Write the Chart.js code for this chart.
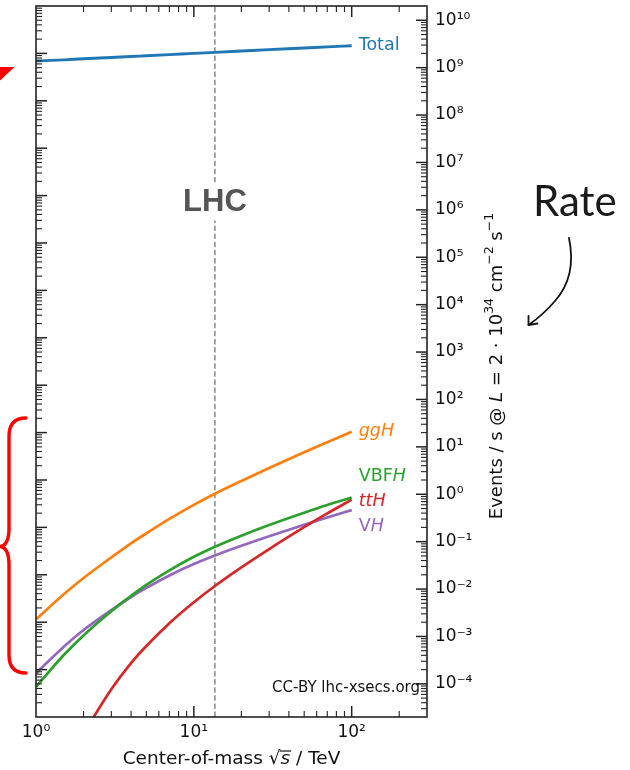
<!DOCTYPE html>
<html>
<head>
<meta charset="utf-8">
<script src="https://cdn.jsdelivr.net/npm/chart.js@4.4.1/dist/chart.umd.min.js"></script>
<style>
  html, body { margin: 0; padding: 0; background: #ffffff; }
  #wrap { width: 630px; height: 770px; position: relative; }
</style>
</head>
<body>
<div id="wrap"><canvas id="c" width="630" height="770"></canvas></div>
<script>
// ---------------- data ----------------
const energiesTeV = [1, 1.5, 2, 3, 4, 5, 7, 10, 13.6, 20, 30, 50, 70, 100];
const totalRate = [1.38e9, 1.46e9, 1.54e9, 1.64e9, 1.72e9, 1.78e9, 1.88e9, 2.0e9, 2.1e9, 2.24e9, 2.4e9, 2.6e9, 2.75e9, 2.9e9];
const ggHRate   = [2.3e-3, 7.76e-3, 0.0171, 0.0465, 0.0923, 0.150, 0.303, 0.598, 1.027, 1.905, 3.57, 7.69, 12.5, 20.8];
const vbfHRate  = [8.7e-5, 4.06e-4, 1.05e-3, 3.4e-3, 7.18e-3, 0.0122, 0.0247, 0.0479, 0.0783, 0.134, 0.225, 0.409, 0.593, 0.85];
const ttHRate   = [null, null, 9.0e-6, 7.74e-5, 2.75e-4, 6.3e-4, 1.91e-3, 5.28e-3, 0.0116, 0.0286, 0.0698, 0.202, 0.394, 0.769];
const vHRate    = [1.67e-4, 6.1e-4, 1.37e-3, 3.61e-3, 6.8e-3, 0.01057, 0.0194, 0.0337, 0.051, 0.0817, 0.13, 0.228, 0.324, 0.463];

const seriesNames = ['Total', 'ggH', 'VBFH', 'ttH', 'VH'];
const lhcEnergyTeV = 13.6;

// axis ticks / ranges
const xTickValues = [1, 10, 100];
const rateTickExponents = [-4, -3, -2, -1, 0, 1, 2, 3, 4, 5, 6, 7, 8, 9, 10];
const xRange = [1, 300];
const rateRange = [2e-5, 2e10];
const crossSectionRange = [1, 1e15];   // hidden left axis (fb), rate = sigma * 2e-5

// ---------------- helpers ----------------
const SUP = {'-': '⁻', '0': '⁰', '1': '¹', '2': '²', '3': '³', '4': '⁴', '5': '⁵', '6': '⁶', '7': '⁷', '8': '⁸', '9': '⁹'};
const sup = s => String(s).replace(/[-0-9]/g, c => SUP[c]);
const decadeLabel = v => '10' + sup(Math.round(Math.log10(v)));
const toPts = arr => energiesTeV.map((e, i) => ({x: e, y: arr[i]})).filter(p => p.y !== null);

function logTicks(min, max) {
  const majors = [], minors = [];
  for (let e = Math.floor(Math.log10(min)) - 1; e <= Math.ceil(Math.log10(max)); e++) {
    for (let m = 1; m <= 9; m++) {
      const v = m * Math.pow(10, e);
      if (v < min * 0.9999 || v > max * 1.0001) continue;
      (m === 1 ? majors : minors).push(v);
    }
  }
  return {majors, minors};
}

function drawRich(ctx, parts, x, y, align) {
  let total = 0;
  parts.forEach(p => { ctx.font = p.font; p.w = ctx.measureText(p.t).width; total += p.w; });
  let cx = align === 'center' ? x - total / 2 : (align === 'right' ? x - total : x);
  ctx.textAlign = 'left';
  parts.forEach(p => {
    ctx.font = p.font;
    if (p.color) ctx.fillStyle = p.color;
    ctx.fillText(p.t, cx, y + (p.dy || 0));
    if (p.overline) {
      ctx.save();
      ctx.lineWidth = 1.2;
      ctx.strokeStyle = ctx.fillStyle;
      ctx.beginPath();
      ctx.moveTo(cx - 1, y + p.overline);
      ctx.lineTo(cx + p.w + 1, y + p.overline);
      ctx.stroke();
      ctx.restore();
    }
    cx += p.w;
  });
  return total;
}

const FONT = '"DejaVu Sans", sans-serif';

// ---------------- custom drawing plugin ----------------
const decorPlugin = {
  id: 'decor',
  beforeDatasetsDraw(chart) {
    const {ctx, chartArea: a, scales: {x}} = chart;
    const px = x.getPixelForValue(lhcEnergyTeV);
    ctx.save();
    ctx.strokeStyle = '#8a8a8a';
    ctx.lineWidth = 1.5;
    ctx.setLineDash([5.5, 2.6]);
    ctx.beginPath();
    ctx.moveTo(px, a.bottom);
    ctx.lineTo(px, a.top);
    ctx.stroke();
    ctx.restore();
  },
  afterDatasetsDraw(chart) {
    const {ctx, chartArea: a, scales: {x, y, yL}} = chart;
    ctx.save();

    // LHC label with white box
    const lx = x.getPixelForValue(lhcEnergyTeV), ly = y.getPixelForValue(1.5e6);
    ctx.font = 'bold 31px "Liberation Sans", Arial, sans-serif';
    const lw = ctx.measureText('LHC').width;
    ctx.fillStyle = '#ffffff';
    ctx.fillRect(lx - lw / 2 - 3, ly - 19, lw + 6, 38);
    ctx.fillStyle = '#555555';
    ctx.textAlign = 'center';
    ctx.textBaseline = 'middle';
    ctx.fillText('LHC', lx, ly + 1);

    // frame
    ctx.strokeStyle = '#222222';
    ctx.lineWidth = 1.6;
    ctx.strokeRect(a.left, a.top, a.right - a.left, a.bottom - a.top);

    // ticks (pointing inwards)
    ctx.strokeStyle = '#222222';
    const xt = logTicks(xRange[0], xRange[1]);
    const rt = logTicks(rateRange[0], rateRange[1]);
    const st = logTicks(crossSectionRange[0], crossSectionRange[1]);
    const seg = (x1, y1, x2, y2) => { ctx.beginPath(); ctx.moveTo(x1, y1); ctx.lineTo(x2, y2); ctx.stroke(); };
    [[xt.majors, 11, 1.5], [xt.minors, 6, 1.1]].forEach(([vals, len, w]) => {
      ctx.lineWidth = w;
      vals.forEach(v => {
        const p = x.getPixelForValue(v);
        if (p <= a.left + 0.5 || p >= a.right - 0.5) return;
        seg(p, a.bottom, p, a.bottom - len);
        seg(p, a.top, p, a.top + len);
      });
    });
    [[rt.majors, 11, 1.5], [rt.minors, 6, 1.1]].forEach(([vals, len, w]) => {
      ctx.lineWidth = w;
      vals.forEach(v => {
        const p = y.getPixelForValue(v);
        if (p <= a.top + 0.5 || p >= a.bottom - 0.5) return;
        seg(a.right, p, a.right - len, p);
      });
    });
    [[st.majors, 11, 1.5], [st.minors, 6, 1.1]].forEach(([vals, len, w]) => {
      ctx.lineWidth = w;
      vals.forEach(v => {
        const p = yL.getPixelForValue(v);
        if (p <= a.top + 0.5 || p >= a.bottom - 0.5) return;
        seg(a.left, p, a.left + len, p);
      });
    });

    // series labels at the line ends
    const labX = x.getPixelForValue(100) + 7;
    const F = 17.5;
    const n = `${F}px ${FONT}`, it = `italic ${F}px ${FONT}`;
    ctx.textBaseline = 'middle';
    const lab = [
      {v: 3.0e9, color: '#1f77b4', parts: [{t: 'Total', font: n}]},
      {v: 20.8, color: '#ff7f0e', parts: [{t: 'ggH', font: it}]},
      {v: 2.35, color: '#2ca02c', parts: [{t: 'VBF', font: n}, {t: 'H', font: it}]},
      {v: 0.70, color: '#d62728', parts: [{t: 'ttH', font: it}]},
      {v: 0.207, color: '#9467bd', parts: [{t: 'V', font: n}, {t: 'H', font: it}]}
    ];
    lab.forEach(l => {
      ctx.fillStyle = l.color;
      drawRich(ctx, l.parts, labX, y.getPixelForValue(l.v), 'left');
    });

    // credit
    ctx.fillStyle = '#111111';
    ctx.font = `15px ${FONT}`;
    ctx.textAlign = 'right';
    ctx.fillText('CC-BY lhc-xsecs.org', a.right - 7, a.bottom - 29);

    // x axis title
    ctx.fillStyle = '#111111';
    ctx.textBaseline = 'middle';
    const T = 18.5;
    drawRich(ctx, [
      {t: 'Center-of-mass ', font: `${T}px ${FONT}`},
      {t: '√', font: `${T}px ${FONT}`},
      {t: 's', font: `italic ${T}px ${FONT}`, overline: -8},
      {t: ' / TeV', font: `${T}px ${FONT}`}
    ], (a.left + a.right) / 2, 759, 'center');

    // right axis title (rotated)
    ctx.save();
    ctx.translate(497, 366);
    ctx.rotate(-Math.PI / 2);
    const s = 18, ss = 12.5;
    drawRich(ctx, [
      {t: 'Events / s @ ', font: `${s}px ${FONT}`},
      {t: 'L', font: `italic ${s}px ${FONT}`},
      {t: ' = 2 · 10', font: `${s}px ${FONT}`},
      {t: '34', font: `${ss}px ${FONT}`, dy: -7},
      {t: ' cm', font: `${s}px ${FONT}`},
      {t: '−2', font: `${ss}px ${FONT}`, dy: -7},
      {t: ' s', font: `${s}px ${FONT}`},
      {t: '−1', font: `${ss}px ${FONT}`, dy: -7}
    ], 0, 0, 'center');
    ctx.restore();

    // ---- overlay annotations ----
    // red triangle (arrow tip) top-left
    ctx.fillStyle = '#ff0000';
    ctx.beginPath();
    ctx.moveTo(0, 67); ctx.lineTo(14.5, 67); ctx.lineTo(0, 80.5); ctx.closePath();
    ctx.fill();

    // red brace
    ctx.strokeStyle = '#ff0000';
    ctx.lineWidth = 3.4;
    ctx.lineCap = 'round';
    ctx.lineJoin = 'round';
    ctx.beginPath();
    ctx.moveTo(26, 418);
    ctx.quadraticCurveTo(9, 418, 9, 436);
    ctx.lineTo(9, 528);
    ctx.quadraticCurveTo(9, 545, 0.5, 546.5);
    ctx.quadraticCurveTo(9, 548, 9, 565);
    ctx.lineTo(9, 655);
    ctx.quadraticCurveTo(9, 673, 26, 673);
    ctx.stroke();

    // "Rate" + curved arrow
    ctx.fillStyle = '#1a1a1a';
    ctx.font = '42px Lato, "Open Sans", sans-serif';
    ctx.textAlign = 'left';
    ctx.textBaseline = 'alphabetic';
    ctx.fillText('Rate', 533, 216);
    ctx.strokeStyle = '#111111';
    ctx.lineWidth = 1.8;
    ctx.lineCap = 'round';
    ctx.beginPath();
    ctx.moveTo(569, 238);
    ctx.bezierCurveTo(574, 262, 571, 283, 555, 301);
    ctx.quadraticCurveTo(543, 315, 528.5, 325);
    ctx.stroke();
    ctx.beginPath();
    ctx.moveTo(528.5, 316);
    ctx.lineTo(528.5, 325);
    ctx.lineTo(537.5, 323.5);
    ctx.stroke();

    ctx.restore();
  }
};

// ---------------- chart ----------------
const tickFont = {family: 'DejaVu Sans', size: 17};
const lineDs = (label, arr, color, w) => ({
  label, data: toPts(arr), borderColor: color, backgroundColor: color,
  borderWidth: w, pointRadius: 0, fill: false,
  cubicInterpolationMode: 'monotone', xAxisID: 'x', yAxisID: 'y'
});

new Chart(document.getElementById('c'), {
  type: 'line',
  data: {
    datasets: [
      lineDs(seriesNames[0], totalRate, '#1f77b4', 2.9),
      lineDs(seriesNames[1], ggHRate, '#ff7f0e', 2.7),
      lineDs(seriesNames[2], vbfHRate, '#2ca02c', 2.7),
      lineDs(seriesNames[3], ttHRate, '#d62728', 2.7),
      lineDs(seriesNames[4], vHRate, '#9467bd', 2.7)
    ]
  },
  options: {
    responsive: false,
    animation: false,
    devicePixelRatio: 1,
    layout: {padding: {top: 6, left: 0, right: 0, bottom: 0}, autoPadding: false},
    plugins: {legend: {display: false}, tooltip: {enabled: false}, title: {display: false}},
    scales: {
      x: {
        type: 'logarithmic', position: 'bottom', min: xRange[0], max: xRange[1], bounds: 'data',
        afterBuildTicks: s => { s.ticks = xTickValues.map(v => ({value: v, major: true})); },
        afterFit: s => { s.height = 53; s.paddingLeft = 0; s.paddingRight = 0; },
        ticks: {callback: v => decadeLabel(v), font: tickFont, color: '#111111', maxRotation: 0, autoSkip: false, padding: 5},
        grid: {display: false, drawTicks: false}, border: {display: false}
      },
      y: {
        type: 'logarithmic', position: 'right', min: rateRange[0], max: rateRange[1], bounds: 'data',
        afterBuildTicks: s => { s.ticks = rateTickExponents.map(e => ({value: Math.pow(10, e), major: true})); },
        afterFit: s => { s.width = 203; s.paddingTop = 0; s.paddingBottom = 0; },
        ticks: {callback: v => decadeLabel(v), font: tickFont, color: '#111111', autoSkip: false, padding: 8},
        grid: {display: false, drawTicks: false}, border: {display: false}
      },
      yL: {
        type: 'logarithmic', position: 'left', min: crossSectionRange[0], max: crossSectionRange[1], bounds: 'data',
        afterFit: s => { s.width = 36; s.paddingTop = 0; s.paddingBottom = 0; },
        ticks: {display: false},
        grid: {display: false, drawTicks: false}, border: {display: false}
      }
    }
  },
  plugins: [decorPlugin]
});
</script>
</body>
</html>
